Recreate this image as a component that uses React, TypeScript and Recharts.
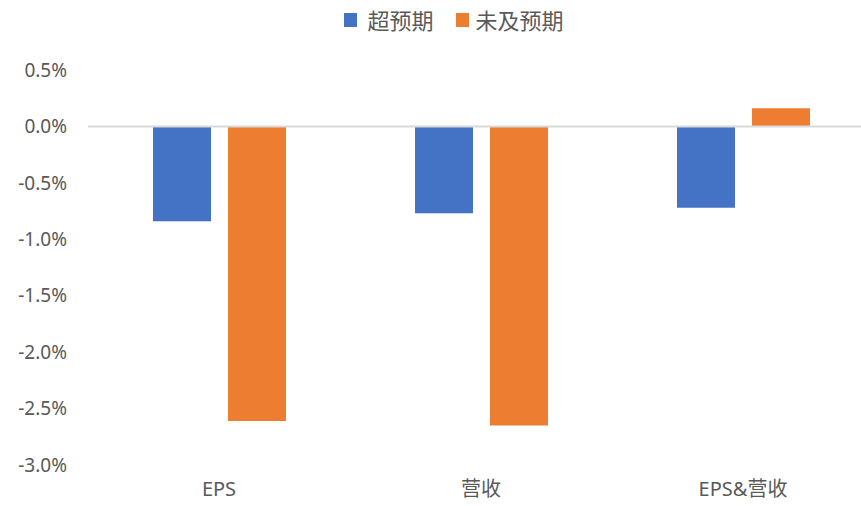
import React from 'react';
import {
  BarChart,
  Bar,
  XAxis,
  YAxis,
  Legend,
  ReferenceLine,
} from 'recharts';

// categories and series (percent)
const categories = ['EPS', '营收', 'EPS&营收'];
const beatValues = [-0.84, -0.77, -0.72];
const missValues = [-2.61, -2.65, 0.16];
const yTicks = [0.5, 0, -0.5, -1, -1.5, -2, -2.5, -3];

const seriesNames = ['超预期', '未及预期'];
const seriesColors = ['#4472C4', '#ED7D31'];

const data = categories.map((name, i) => ({
  name,
  beat: beatValues[i],
  miss: missValues[i],
}));

const FONT = "'Noto Sans', 'Noto Sans CJK SC', sans-serif";
const TEXT = '#595959';

const renderLegend = () => (
  <div style={{ display: 'flex', justifyContent: 'center', fontFamily: FONT, fontSize: 22, color: TEXT, lineHeight: '28px' }}>
    {seriesNames.map((n, i) => (
      <div key={n} style={{ display: 'flex', alignItems: 'center', marginRight: i === 0 ? 22 : 0 }}>
        <span style={{ width: 13, height: 14, background: seriesColors[i], marginRight: i === 0 ? 10 : 7, display: 'inline-block' }} />
        <span>{n}</span>
      </div>
    ))}
  </div>
);

export default function App() {
  return (
    <div style={{ position: 'fixed', left: 0, top: 0, width: 861, height: 506, overflow: 'hidden', background: '#fff' }}>
      <BarChart
        width={880}
        height={506}
        data={data}
        margin={{ top: 70, right: 6, left: 0, bottom: 0 }}
        barSize={58}
        barGap={17}
      >
        <XAxis
          dataKey="name"
          axisLine={false}
          tickLine={false}
          tickSize={0}
          tickMargin={17}
          height={41}
          tick={{ fill: TEXT, fontSize: 20, fontFamily: FONT }}
        />
        <YAxis
          domain={[-3, 0.5]}
          ticks={yTicks}
          axisLine={false}
          tickLine={false}
          tickSize={0}
          tickMargin={21}
          width={88}
          tickFormatter={(v: number) => `${v.toFixed(1)}%`}
          tick={{ fill: TEXT, fontSize: 19, fontFamily: FONT }}
        />
        <Legend
          layout="horizontal"
          verticalAlign="middle"
          align="center"
          content={renderLegend}
          wrapperStyle={{ top: 6, left: 0, width: 908 }}
        />
        <Bar dataKey="beat" name={seriesNames[0]} fill={seriesColors[0]} isAnimationActive={false} />
        <Bar dataKey="miss" name={seriesNames[1]} fill={seriesColors[1]} isAnimationActive={false} />
        <ReferenceLine y={0} stroke="#D9D9D9" strokeWidth={2} />
      </BarChart>
    </div>
  );
}
